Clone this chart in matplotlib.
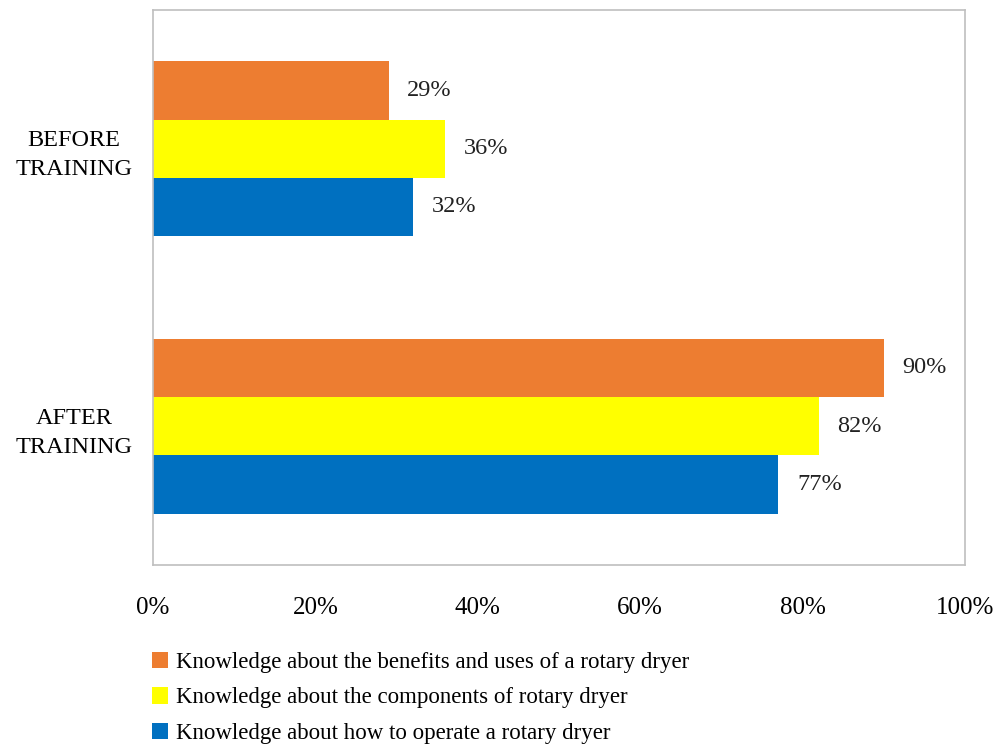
import numpy as np
import matplotlib.pyplot as plt
from matplotlib.patches import Patch

plt.rcParams['font.family'] = ['Liberation Serif', 'DejaVu Serif']

# Data
groups = ["AFTER\nTRAINING", "BEFORE\nTRAINING"]
series = [
    "Knowledge about the benefits and uses of a rotary dryer",
    "Knowledge about the components of rotary dryer",
    "Knowledge about how to operate a rotary dryer",
]
values = [
    [90, 29],   # benefits and uses
    [82, 36],   # components
    [77, 32],   # how to operate
]
colors = ["#ED7D31", "#FFFF00", "#0070C0"]
xticks = [0, 20, 40, 60, 80, 100]

fig = plt.figure(figsize=(9.97, 7.49), dpi=100)
ax = fig.add_axes([0.1535, 0.2457, 0.8145, 0.741])

bar_h = 0.21
offsets = [bar_h, 0, -bar_h]
y = np.arange(len(groups))

for vals, col, off in zip(values, colors, offsets):
    ax.barh(y + off, vals, height=bar_h, color=col, edgecolor='none')
    for yi, v in zip(y, vals):
        ax.text(v + 2.3, yi + off, f"{v}%", va='center', ha='left', fontsize=17.5, color='#222222')

ax.set_xlim(0, 100)
ax.set_ylim(-0.5, 1.5)
ax.set_xticks(xticks)
ax.set_xticklabels([f"{t}%" for t in xticks], fontsize=18)
ax.set_yticks(y)
ax.set_yticklabels(groups, fontsize=17.5, ha='center', linespacing=1.5)
ax.tick_params(axis='y', length=0, pad=57)
ax.tick_params(axis='x', length=0, pad=23)
for s in ax.spines.values():
    s.set_color('#BFBFBF')
    s.set_linewidth(1.2)

handles = [Patch(facecolor=c, edgecolor='none') for c in colors]
fig.legend(handles, series, loc='upper left', bbox_to_anchor=(0.143, 0.142),
           frameon=False, fontsize=16.5, handlelength=0.72, handleheight=0.72,
           handletextpad=0.35, labelspacing=0.62, borderaxespad=0)

fig.savefig("out.png", dpi=100)
